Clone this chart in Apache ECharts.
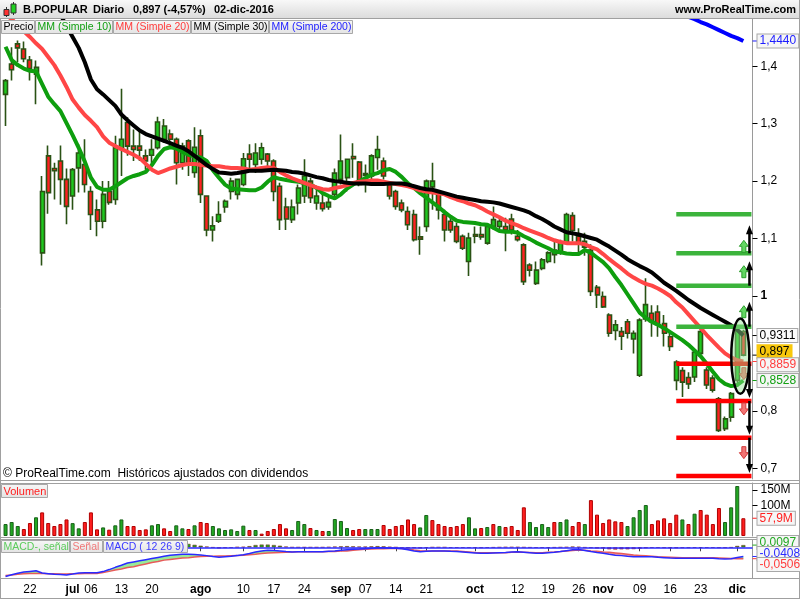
<!DOCTYPE html>
<html><head><meta charset="utf-8"><title>B.POPULAR</title>
<script src="https://cdn.jsdelivr.net/npm/echarts@6.0.0/dist/echarts.min.js"></script>
<style>html,body{margin:0;padding:0;background:#fff;overflow:hidden}#c{width:800px;height:600px}</style>
</head><body><div id="c"></div>
<script>
const FONT = "'Liberation Sans', Arial, Helvetica, sans-serif";

// ---- categories: trading days 16-jun-2016 .. 02-dic-2016 ----
const dates = [];
for (let t = Date.UTC(2016,5,16); t <= Date.UTC(2016,11,2); t += 86400000) {
  const d = new Date(t), w = d.getUTCDay();
  if (w > 0 && w < 6) dates.push(d.toISOString().slice(0,10));
}
const cats = dates.concat(['']);

// ---- time-axis tick labels ----
const tickLabels = [['2016-06-22','22'],['2016-07-01','jul'],['2016-07-06','06'],['2016-07-13','13'],['2016-07-20','20'],
 ['2016-08-01','ago'],['2016-08-10','10'],['2016-08-17','17'],['2016-08-24','24'],['2016-09-01','sep'],['2016-09-07','07'],
 ['2016-09-14','14'],['2016-09-21','21'],['2016-10-03','oct'],['2016-10-12','12'],['2016-10-19','19'],['2016-10-26','26'],
 ['2016-11-01','nov'],['2016-11-09','09'],['2016-11-16','16'],['2016-11-23','23'],['2016-12-01','dic']];
const monthNames = ['jul','ago','sep','oct','nov','dic'];

// ---- price candles ----
const open = [
1.351,1.404,1.439,1.430,1.411,1.386,1.075,1.244,1.222,1.235,
1.203,1.174,1.223,1.229,1.182,1.150,1.130,1.182,1.168,1.255,
1.302,1.261,1.261,1.244,1.245,1.258,1.273,1.282,1.273,1.232,
1.270,1.215,1.279,1.174,1.115,1.130,1.155,1.182,1.177,1.194,
1.247,1.229,1.238,1.247,1.235,1.191,1.155,1.133,1.162,1.174,
1.200,1.162,1.162,1.155,1.177,1.203,1.206,1.243,1.233,1.213,
1.209,1.241,1.235,1.194,1.182,1.162,1.147,1.142,1.103,1.121,
1.190,1.180,1.142,1.130,1.121,1.104,1.060,1.107,1.107,1.092,
1.121,1.121,1.121,1.134,1.104,1.089,1.054,1.022,1.048,1.060,
1.072,1.075,1.092,1.140,1.104,1.085,1.080,1.015,0.999,0.967,
0.940,0.938,0.955,0.925,0.862,0.960,0.970,0.972,0.952,0.929,
0.853,0.870,0.858,0.859,0.900,0.871,0.857,0.821,0.769,0.789,
0.853,0.938];
const high = [
1.378,1.433,1.445,1.443,1.418,1.410,1.209,1.262,1.232,1.262,
1.222,1.223,1.264,1.273,1.191,1.168,1.200,1.200,1.279,1.361,
1.311,1.290,1.290,1.255,1.273,1.312,1.308,1.290,1.276,1.267,
1.273,1.294,1.290,1.175,1.139,1.165,1.168,1.206,1.204,1.249,
1.264,1.266,1.267,1.249,1.238,1.197,1.171,1.168,1.194,1.238,
1.206,1.191,1.178,1.174,1.222,1.281,1.239,1.266,1.235,1.229,
1.247,1.279,1.241,1.197,1.185,1.168,1.156,1.150,1.121,1.203,
1.232,1.182,1.150,1.136,1.127,1.107,1.110,1.121,1.121,1.127,
1.156,1.136,1.136,1.143,1.115,1.092,1.057,1.060,1.066,1.078,
1.098,1.098,1.145,1.146,1.118,1.110,1.090,1.019,1.008,0.970,
0.958,0.946,0.960,0.940,0.961,1.031,0.984,0.984,0.967,0.937,
0.888,0.876,0.867,0.905,0.944,0.876,0.862,0.824,0.790,0.833,
0.945,0.941];
const low = [
1.296,1.375,1.407,1.407,1.375,1.334,1.053,1.143,1.168,1.159,
1.125,1.150,1.180,1.180,1.115,1.104,1.118,1.159,1.159,1.209,
1.244,1.235,1.235,1.220,1.226,1.255,1.267,1.261,1.194,1.220,
1.209,1.206,1.162,1.104,1.095,1.127,1.145,1.168,1.168,1.191,
1.217,1.214,1.229,1.220,1.165,1.115,1.115,1.127,1.142,1.162,
1.162,1.150,1.147,1.150,1.171,1.194,1.182,1.206,1.191,1.180,
1.200,1.220,1.203,1.168,1.150,1.146,1.115,1.095,1.072,1.112,
1.150,1.133,1.095,1.110,1.092,1.080,1.035,1.092,1.098,1.089,
1.115,1.115,1.078,1.107,1.095,1.019,1.034,1.019,1.045,1.057,
1.057,1.072,1.089,1.095,1.075,1.070,1.000,0.979,0.979,0.929,
0.923,0.906,0.926,0.900,0.859,0.955,0.929,0.929,0.912,0.904,
0.836,0.824,0.838,0.850,0.894,0.838,0.832,0.763,0.765,0.781,
0.842,0.895];
const close = [
1.375,1.394,1.432,1.413,1.396,1.398,1.182,1.180,1.218,1.203,
1.156,1.220,1.249,1.194,1.142,1.130,1.177,1.163,1.258,1.273,
1.261,1.255,1.254,1.235,1.255,1.303,1.296,1.273,1.232,1.261,
1.232,1.259,1.177,1.115,1.122,1.142,1.165,1.200,1.203,1.239,
1.238,1.249,1.258,1.235,1.182,1.133,1.134,1.155,1.188,1.209,
1.171,1.174,1.152,1.163,1.214,1.235,1.238,1.239,1.194,1.210,
1.244,1.255,1.209,1.174,1.156,1.150,1.124,1.098,1.099,1.200,
1.200,1.150,1.115,1.115,1.095,1.083,1.101,1.104,1.103,1.121,
1.133,1.130,1.115,1.115,1.098,1.025,1.045,1.045,1.063,1.075,
1.080,1.092,1.142,1.114,1.092,1.095,1.008,1.002,0.981,0.935,
0.950,0.930,0.935,0.935,0.958,0.985,0.955,0.950,0.935,0.912,
0.885,0.850,0.847,0.902,0.938,0.845,0.836,0.766,0.786,0.830,
0.940,0.897];

// ---- moving averages ----
const ma10 = [
1.434,1.411,1.402,1.396,1.392,1.391,1.369,1.347,1.334,1.322,
1.301,1.280,1.258,1.234,1.206,1.190,1.185,1.185,1.191,1.198,
1.205,1.209,1.212,1.216,1.228,1.244,1.256,1.259,1.257,1.251,
1.246,1.243,1.241,1.235,1.219,1.206,1.194,1.187,1.186,1.185,
1.184,1.184,1.189,1.199,1.207,1.204,1.202,1.200,1.199,1.196,
1.194,1.188,1.179,1.174,1.170,1.177,1.187,1.194,1.200,1.205,
1.211,1.214,1.219,1.221,1.216,1.207,1.196,1.188,1.179,1.171,
1.163,1.155,1.146,1.138,1.131,1.129,1.128,1.127,1.125,1.124,
1.119,1.113,1.112,1.112,1.110,1.104,1.099,1.093,1.088,1.083,
1.077,1.076,1.074,1.073,1.073,1.080,1.075,1.067,1.059,1.048,
1.033,1.019,1.003,0.987,0.971,0.962,0.955,0.950,0.944,0.937,
0.930,0.923,0.915,0.905,0.895,0.882,0.868,0.855,0.847,0.843,
0.845,0.8528];
const ma20 = [
1.490,1.482,1.472,1.461,1.451,1.440,1.430,1.416,1.402,1.384,
1.364,1.342,1.328,1.315,1.305,1.294,1.278,1.267,1.261,1.256,
1.251,1.246,1.240,1.230,1.220,1.214,1.218,1.222,1.225,1.228,
1.230,1.230,1.228,1.227,1.226,1.226,1.224,1.223,1.223,1.222,
1.220,1.221,1.223,1.224,1.223,1.216,1.210,1.205,1.201,1.197,
1.193,1.189,1.186,1.185,1.188,1.190,1.193,1.197,1.199,1.200,
1.201,1.201,1.199,1.197,1.195,1.193,1.191,1.188,1.184,1.182,
1.180,1.179,1.177,1.172,1.168,1.165,1.161,1.158,1.153,1.147,
1.142,1.137,1.131,1.127,1.123,1.118,1.114,1.110,1.106,1.101,
1.097,1.094,1.092,1.092,1.092,1.090,1.085,1.081,1.073,1.064,
1.056,1.048,1.039,1.032,1.026,1.021,1.018,1.013,1.007,1.000,
0.989,0.980,0.968,0.956,0.944,0.932,0.921,0.910,0.900,0.893,
0.888,0.8859];
const ma30 = [null,null,null,null,null,null,null,null,null,1.490,1.470,
1.451,1.432,1.407,1.377,1.360,1.351,1.341,1.331,1.316,1.306,
1.297,1.288,1.282,1.278,1.274,1.270,1.266,1.262,1.258,1.252,
1.244,1.236,1.228,1.221,1.215,1.214,1.213,1.214,1.216,1.218,
1.218,1.218,1.219,1.220,1.219,1.218,1.216,1.215,1.213,1.210,
1.207,1.205,1.202,1.200,1.199,1.197,1.196,1.196,1.196,1.195,
1.195,1.195,1.196,1.196,1.196,1.194,1.191,1.188,1.186,1.185,
1.182,1.179,1.176,1.173,1.171,1.169,1.167,1.165,1.164,1.163,
1.161,1.158,1.155,1.152,1.149,1.145,1.139,1.134,1.128,1.121,
1.116,1.111,1.109,1.107,1.104,1.101,1.098,1.092,1.086,1.079,
1.072,1.064,1.058,1.052,1.047,1.041,1.032,1.023,1.016,1.009,
1.001,0.993,0.986,0.979,0.973,0.967,0.961,0.955,0.949,0.941,0.9311];
const ma200 = new Array(111).fill(null).concat([1.490,1.486,1.482,1.477,1.473,1.468,1.463,1.458,1.453,1.449,1.444]);

// ---- volume (millions) and up/down flag as read ----
const volume = [
39,45.6,32.6,22.8,42.4,61,77,42.4,32.6,39,
54,42,25,45.6,77,21.7,28,20.6,34.8,54,
32.6,32.6,19.6,21.7,34.8,39,25,16.3,34.8,25,
22.8,34.8,45.6,42.4,32.6,25,19.6,21.7,16.3,33.7,
19.6,19.6,7.6,16.3,22.8,39,25,19.6,49,39,
26,19.6,16.3,16.3,55.4,49,26,19.6,22.8,22.8,
22.8,22.8,35.9,22.8,32.6,35.9,54,39,28,68.5,
52,39,32.6,29.3,32.6,39,61,25,26,29.3,
39,32.6,29.3,32.6,19.6,93.5,45.6,29.3,39,29.3,
45.6,45.6,54,32.6,45.6,39,117,69.6,42.4,54,
47.8,45.6,32.6,61,84.8,101,39,51,57.6,42.4,
69.6,54,39,72.7,84.8,69.6,39,91.3,45.6,93.5,
163,57.9];
const volDir = 'gggrrgrrrr'+'rggrrrgrgg'+'rrrrggrrgg'+'rgrrgggggg'+'rgrrrrrggg'+'rgrggggrrg'+
               'ggrrrrrrgg'+'rrrrrrggrg'+'rgrrrrgggg'+'rggrrgrrrr'+'rrggggrrrr'+'rgrgrrrrgg'+'gr';

// ---- MACD (12 26 9) ----
const macd = [
-0.130,-0.122,-0.115,-0.110,-0.107,-0.104,-0.114,-0.117,-0.120,-0.121,
-0.123,-0.119,-0.114,-0.113,-0.113,-0.113,-0.108,-0.099,-0.089,-0.080,
-0.070,-0.065,-0.060,-0.055,-0.050,-0.045,-0.040,-0.035,-0.033,-0.031,
-0.031,-0.032,-0.034,-0.037,-0.041,-0.044,-0.042,-0.040,-0.036,-0.033,
-0.028,-0.021,-0.016,-0.013,-0.014,-0.016,-0.019,-0.021,-0.020,-0.020,
-0.020,-0.020,-0.020,-0.018,-0.016,-0.013,-0.011,-0.009,-0.008,-0.006,
-0.004,-0.002,-0.002,-0.003,-0.004,-0.007,-0.011,-0.016,-0.020,-0.018,
-0.016,-0.016,-0.016,-0.018,-0.019,-0.021,-0.023,-0.025,-0.027,-0.026,
-0.025,-0.024,-0.023,-0.021,-0.020,-0.022,-0.024,-0.026,-0.026,-0.024,
-0.022,-0.019,-0.015,-0.011,-0.010,-0.014,-0.019,-0.023,-0.026,-0.031,
-0.035,-0.037,-0.040,-0.042,-0.042,-0.042,-0.042,-0.044,-0.046,-0.048,
-0.049,-0.049,-0.049,-0.049,-0.049,-0.049,-0.049,-0.051,-0.052,-0.051,
-0.045,-0.04084];
const signal = [
-0.125,-0.123,-0.120,-0.118,-0.116,-0.116,-0.116,-0.117,-0.118,-0.119,
-0.119,-0.118,-0.117,-0.116,-0.116,-0.116,-0.112,-0.107,-0.101,-0.096,
-0.090,-0.086,-0.080,-0.074,-0.068,-0.063,-0.057,-0.054,-0.051,-0.048,
-0.046,-0.043,-0.041,-0.040,-0.040,-0.039,-0.039,-0.038,-0.037,-0.035,
-0.033,-0.031,-0.028,-0.025,-0.024,-0.023,-0.022,-0.021,-0.020,-0.020,
-0.020,-0.020,-0.020,-0.019,-0.019,-0.017,-0.016,-0.013,-0.011,-0.009,
-0.008,-0.007,-0.006,-0.005,-0.004,-0.005,-0.008,-0.012,-0.015,-0.016,
-0.016,-0.016,-0.016,-0.016,-0.017,-0.019,-0.021,-0.023,-0.024,-0.024,
-0.024,-0.024,-0.024,-0.022,-0.021,-0.022,-0.023,-0.024,-0.024,-0.022,
-0.021,-0.019,-0.016,-0.014,-0.012,-0.013,-0.016,-0.018,-0.021,-0.022,
-0.025,-0.028,-0.031,-0.034,-0.036,-0.038,-0.040,-0.042,-0.043,-0.044,
-0.045,-0.046,-0.046,-0.047,-0.047,-0.047,-0.047,-0.048,-0.049,-0.050,
-0.051,-0.05056];

// ---- axis ticks & drawn levels ----
const priceTicks = [0.7,0.8,1.0,1.1,1.2,1.3,1.4];
const volTicks = [100,150];
const resistance = [1.1423,1.0743,1.0179,0.9465];
const support = [0.8821,0.8172,0.7533,0.6866];

const PMIN = 0.6813, PMAX = 1.4823;
const DARK = '#2a5214';

const labelMap = new Map(tickLabels);
const ohlc = open.map((o,i)=>[o, close[i], low[i], high[i]]);
const volData = volume.map((v,i)=>({value:v, itemStyle: volDir[i]==='g'
   ? {color:'#22a822', borderColor:'#186018', borderWidth:1}
   : {color:'#ff1e1e', borderColor:'#b00000', borderWidth:1}}));
const hist = macd.map((m,i)=>+(m - signal[i]).toFixed(5));
const base = macd.map((m,i)=>Math.min(m, signal[i]));
const gPart = macd.map((m,i)=>m > signal[i] ? m - signal[i] : 0);
const rPart = macd.map((m,i)=>m < signal[i] ? signal[i] - m : 0);

const hiddenCat = {type:'category', data:cats, boundaryGap:true, axisLine:{show:false}, axisTick:{show:false}, axisLabel:{show:false}, splitLine:{show:false}};
const tickInterval = (idx, val) => labelMap.has(val);

const option = {
  animation:false,
  textStyle:{fontFamily:FONT},
  grid:[
    {left:2.5, top:19, width:750, height:460},
    {left:2.5, top:483, width:750, height:53},
    {left:2.5, top:540, width:750, height:38}
  ],
  xAxis:[
    Object.assign({gridIndex:0}, hiddenCat),
    Object.assign({gridIndex:1}, hiddenCat),
    {type:'category', gridIndex:2, data:cats, boundaryGap:true,
     axisLine:{show:false},
     axisTick:{show:true, interval:tickInterval, alignWithLabel:true, length:4, lineStyle:{color:'#444'}},
     axisLabel:{interval:tickInterval, margin:6, fontSize:12, color:'#000', fontFamily:FONT,
       formatter:(v)=>{const t = labelMap.get(v)||''; return monthNames.includes(t) ? '{b|'+t+'}' : t;},
       rich:{b:{fontWeight:'bold', fontSize:12, fontFamily:FONT, color:'#000'}}},
     splitLine:{show:false}}
  ],
  yAxis:[
    {type:'value', gridIndex:0, position:'right', min:PMIN, max:PMAX, scale:true,
     axisLine:{show:true, lineStyle:{color:'#9a9a9a'}},
     axisTick:{show:true, customValues:priceTicks, length:5, lineStyle:{color:'#000'}},
     axisLabel:{customValues:priceTicks, margin:8, fontSize:12, color:'#000', fontFamily:FONT,
       formatter:(v)=> Math.abs(v-1)<1e-9 ? '{b|1}' : v.toFixed(1).replace('.',','),
       rich:{b:{fontWeight:'bold', fontSize:12, fontFamily:FONT, color:'#000'}}},
     splitLine:{show:false}},
    {type:'value', gridIndex:1, position:'right', min:0, max:172.8,
     axisLine:{show:true, lineStyle:{color:'#9a9a9a'}},
     axisTick:{show:true, customValues:volTicks, length:5, lineStyle:{color:'#000'}},
     axisLabel:{customValues:volTicks, margin:8, fontSize:12, color:'#000', fontFamily:FONT, formatter:(v)=>v+'M'},
     splitLine:{show:false}},
    {type:'value', gridIndex:2, position:'right', min:-0.1364, max:0.0324,
     axisLine:{show:true, lineStyle:{color:'#9a9a9a'}},
     axisTick:{show:false}, axisLabel:{show:false}, splitLine:{show:false}}
  ],
  series:[
    {type:'candlestick', xAxisIndex:0, yAxisIndex:0, data:ohlc, barWidth:4.5, silent:true,
     itemStyle:{color:'#1ec81e', color0:'#ff2020', borderColor:DARK, borderColor0:DARK, borderWidth:1.6}},
    {type:'line', xAxisIndex:0, yAxisIndex:0, data:ma10, symbol:'none', silent:true, lineStyle:{color:'#0e9e0e', width:4}},
    {type:'line', xAxisIndex:0, yAxisIndex:0, data:ma20, symbol:'none', silent:true, lineStyle:{color:'#ff4646', width:4}},
    {type:'line', xAxisIndex:0, yAxisIndex:0, data:ma30, symbol:'none', silent:true, lineStyle:{color:'#000000', width:4}},
    {type:'line', xAxisIndex:0, yAxisIndex:0, data:ma200, symbol:'none', silent:true, lineStyle:{color:'#0000ff', width:4}},
    {type:'bar', xAxisIndex:1, yAxisIndex:1, data:volData, barWidth:4, silent:true},
    {type:'line', xAxisIndex:2, yAxisIndex:2, data:base, stack:'f', stackStrategy:'all', symbol:'none', silent:true, lineStyle:{width:0, opacity:0}},
    {type:'line', xAxisIndex:2, yAxisIndex:2, data:gPart, stack:'f', stackStrategy:'all', symbol:'none', silent:true, lineStyle:{width:0, opacity:0}, areaStyle:{color:'#98ea98', opacity:1}},
    {type:'line', xAxisIndex:2, yAxisIndex:2, data:rPart, stack:'f', stackStrategy:'all', symbol:'none', silent:true, lineStyle:{width:0, opacity:0}, areaStyle:{color:'#f3a4a4', opacity:1}},
    {type:'bar', xAxisIndex:2, yAxisIndex:2, data:hist, barWidth:4, silent:true,
     itemStyle:{color:(p)=> p.value>=0 ? '#22a822' : '#e03030', borderColor:'#7a2020', borderWidth:0.5}},
    {type:'line', xAxisIndex:2, yAxisIndex:2, data:signal, symbol:'none', silent:true, lineStyle:{color:'#e85a5a', width:1.5}},
    {type:'line', xAxisIndex:2, yAxisIndex:2, data:macd, symbol:'none', silent:true, lineStyle:{color:'#2a2aff', width:1.5},
     markLine:{silent:true, symbol:'none', label:{show:false}, lineStyle:{color:'#2a2aff', width:1.5, type:'solid'}, data:[{yAxis:0}]}}
  ]
};

const chart = echarts.init(document.getElementById('c'), null, {renderer:'canvas', width:800, height:600});
chart.setOption(option);

// ---------- overlay graphics ----------
const G = [];
const grad = (a,b)=> new echarts.graphic.LinearGradient(0,0,0,1,[{offset:0,color:a},{offset:1,color:b}]);
const hline = (y, x1, x2, c, w, z)=>({type:'line', shape:{x1, y1:y, x2, y2:y}, style:{stroke:c||'#a0a0a0', lineWidth:w||1}, z:z||100, silent:true});
const vline = (x, y1, y2, c, w, z)=>({type:'line', shape:{x1:x, y1, x2:x, y2}, style:{stroke:c||'#a0a0a0', lineWidth:w||1}, z:z||100, silent:true});
function lbox(x, y, w, h, text, color, fs){
  G.push({type:'rect', shape:{x, y, width:w, height:h}, style:{fill:grad('#f7f7f7','#e3e3e3'), stroke:'#a8a8a8', lineWidth:1}, z:100, silent:true});
  G.push({type:'text', x:x+2, y:y+h/2+0.5, style:{text, fill:color, fontSize:fs||10.5, fontFamily:FONT, verticalAlign:'middle'}, z:101, silent:true});
}

// title bar
G.push({type:'rect', shape:{x:0, y:0, width:800, height:18}, style:{fill:grad('#f8f8f8','#dcdcdc')}, z:100, silent:true});
G.push(hline(18.5, 0, 800));
const ttl = [['B.POPULAR',23],['Diario',93],['0,897 (-4,57%)',133],['02-dic-2016',214]];
ttl.forEach(([t,x])=>G.push({type:'text', x, y:10, style:{text:t, fill:'#000', fontSize:11, fontWeight:'bold', fontFamily:FONT, verticalAlign:'middle'}, z:101, silent:true}));
G.push({type:'text', x:796, y:10, style:{text:'www.ProRealTime.com', fill:'#000', fontSize:11, fontWeight:'bold', fontFamily:FONT, align:'right', verticalAlign:'middle'}, z:101, silent:true});
// icon
G.push(vline(6.5, 7, 17, '#303030', 1, 101));
G.push({type:'rect', shape:{x:4, y:9.5, width:5, height:6}, style:{fill:'#ff3030', stroke:'#303030', lineWidth:1}, z:102, silent:true});
G.push(vline(13.5, 2, 15, '#303030', 1, 101));
G.push({type:'rect', shape:{x:11, y:4, width:5, height:9}, style:{fill:'#22d022', stroke:'#303030', lineWidth:1}, z:102, silent:true});

// price legend boxes
lbox(1.5, 20.5, 33, 13, 'Precio', '#000');
lbox(35.5, 20.5, 77, 13, 'MM (Simple 10)', '#12a012');
lbox(113.5, 20.5, 77, 13, 'MM (Simple 20)', '#ff3c3c');
lbox(191.5, 20.5, 77, 13, 'MM (Simple 30)', '#000');
lbox(269.5, 20.5, 83, 13, 'MM (Simple 200)', '#1c1cff');

G.push({type:'text', x:3, y:474, style:{text:'\u00a9 ProRealTime.com  Hist\u00f3ricos ajustados con dividendos', fill:'#000', fontSize:12, fontFamily:FONT, verticalAlign:'middle'}, z:101, silent:true});

// pane separators / frame
[480.5, 483.5, 537.5, 539.5, 578.5, 598.5].forEach(y=>G.push(hline(y, 0, 800)));
G.push(vline(0.5, 18, 599));
G.push(vline(799.5, 0, 599));

// volume & MACD legend boxes
lbox(1.5, 484.5, 46, 13, 'Volumen', '#ff2020', 11);
lbox(1.5, 540.5, 68, 12, 'MACD-, se\u00f1al', '#5ccc5c');
lbox(70.5, 540.5, 32, 12, 'Se\u00f1al', '#f07878');
lbox(103.5, 540.5, 84, 12, 'MACD ( 12 26 9)', '#3a3aff');

// --- drawn levels, arrows, ellipse (positioned through the axes) ---
const py = v => chart.convertToPixel({yAxisIndex:0}, v);
const px = i => chart.convertToPixel({xAxisIndex:0}, i);
const n = dates.length;
const xs = px(n-12), xe = px(n) + 2, xArrow = px(n-1) + 0.5, xBlack = px(n);
resistance.forEach(v=>G.push(hline(py(v), xs, xe, '#3cb43c', 4.5, 50)));
support.forEach(v=>G.push(hline(py(v), xs, xe, '#ff0000', 4.5, 50)));

function upArrow(cx, bottom){
  const t = bottom - 12;
  G.push({type:'polygon', shape:{points:[[cx,t],[cx+4.5,t+6],[cx+2,t+6],[cx+2,bottom],[cx-2,bottom],[cx-2,t+6],[cx-4.5,t+6]]},
          style:{fill:'#62d662', stroke:'#2e9e2e', lineWidth:1}, z:60, silent:true});
}
function downArrow(cx, top){
  const b = top + 12;
  G.push({type:'polygon', shape:{points:[[cx,b],[cx+4.5,b-6],[cx+2,b-6],[cx+2,top],[cx-2,top],[cx-2,b-6],[cx-4.5,b-6]]},
          style:{fill:'#f27474', stroke:'#d23c3c', lineWidth:1}, z:60, silent:true});
}
function blackArrow(x, yFrom, yTip){
  const dir = yTip > yFrom ? 1 : -1;
  G.push({type:'line', shape:{x1:x, y1:yFrom, x2:x, y2:yTip - dir*7}, style:{stroke:'#000', lineWidth:2.5}, z:61, silent:true});
  G.push({type:'polygon', shape:{points:[[x, yTip],[x-3.5, yTip-dir*9],[x+3.5, yTip-dir*9]]}, style:{fill:'#000'}, z:61, silent:true});
}
const upGap = [1, 8, 9], upTip = [11, 8, 16], downGap = [4, 2, 9];
for (let k=1; k<4; k++){
  upArrow(xArrow, py(resistance[k]) - upGap[k-1]);
  blackArrow(xBlack, py(resistance[k]), py(resistance[k-1]) + upTip[k-1]);
}
for (let k=0; k<3; k++){
  downArrow(xArrow, py(support[k]) + downGap[k]);
  blackArrow(xBlack, py(support[k]), py(support[k+1]) - 3);
}
// ellipse around last two candles
const eTop = py(Math.max(high[n-1], high[n-2])), eBot = py(Math.min(low[n-1], low[n-2]));
G.push({type:'ellipse', shape:{cx:(px(n-1)+px(n-2))/2, cy:(eTop+eBot)/2 - 1, rx:9, ry:(eBot-eTop)/2 + 8},
        style:{fill:'rgba(150,228,150,0.45)', stroke:'#000', lineWidth:2.5}, z:62, silent:true});

// --- right-hand value labels ---
function relax(items, gap){
  items.sort((a,b)=>a.y-b.y);
  for (let it=0; it<20; it++){
    for (let j=0; j<items.length-1; j++){
      const a = items[j], b = items[j+1], d = b.y - a.y;
      if (d < gap){ const s = (gap-d)/2; a.y -= s; b.y += s; }
    }
  }
  return items;
}
function valueLabels(items, gap){
  items.forEach(o=>{o.y0 = o.y;});
  relax(items, gap).forEach(o=>{
    G.push(hline(o.y0, 752.5, 757.5, o.tick || o.color, 1, 102));
    G.push({type:'text', x:757.5, y:o.y, style:{text:o.text, fill:o.color, fontSize:12, fontFamily:FONT, verticalAlign:'middle',
            backgroundColor:o.bg || '#f6f6f6', borderColor:o.border || '#a8a8a8', borderWidth:1, padding:[1,2,0,2]}, z:103, silent:true});
  });
}
const fmt = (v, d)=> v.toFixed(d).replace('.',',');
const last = n-1;
valueLabels([{y:py(ma200[last]), text:fmt(ma200[last],4), color:'#1c1cff'}], 13);
valueLabels([
  {y:py(ma30[last]), text:fmt(ma30[last],4), color:'#000', bg:'#fbfbfb'},
  {y:py(close[last]), text:fmt(close[last],3), color:'#000', bg:'#f8c80c', border:'#f8c80c'},
  {y:py(ma20[last]), text:fmt(ma20[last],4), color:'#ff3c3c'},
  {y:py(ma10[last]), text:fmt(ma10[last],4), color:'#12a012'}
], 13);
valueLabels([{y:chart.convertToPixel({yAxisIndex:1}, volume[last]), text:fmt(volume[last],1)+'M', color:'#ff2020'}], 13);
const my = v => chart.convertToPixel({yAxisIndex:2}, v);
valueLabels([
  {y:my(hist[last]), text:fmt(hist[last],4), color:'#22a822'},
  {y:my(macd[last]), text:fmt(macd[last],4), color:'#2a2aff'},
  {y:my(signal[last]), text:fmt(signal[last],4), color:'#ff3c3c'}
], 11);

chart.setOption({graphic:{elements:G}});
</script></body></html>
